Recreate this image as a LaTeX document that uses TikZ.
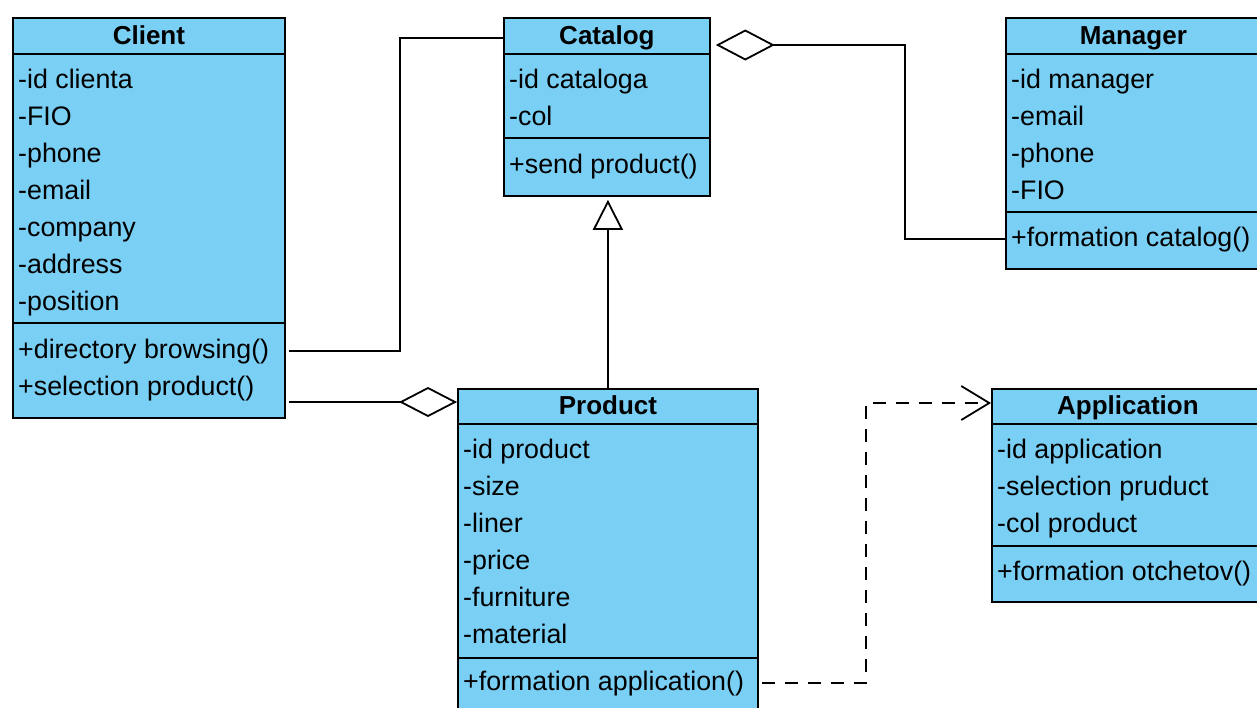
\documentclass[tikz,border=0pt]{standalone}
\usepackage{fontspec}
\setmainfont{Liberation Sans}
\usetikzlibrary{calc,arrows.meta}
\definecolor{umlfill}{RGB}{122,207,245}

\begin{document}
\begin{tikzpicture}[x=1pt,y=-1pt,
  classbox/.style={rectangle, draw=black, fill=umlfill, line width=1.8pt,
    inner sep=0pt, anchor=north west},
  member/.style={anchor=base west, inner sep=0pt,
    font=\fontsize{26.8}{32}\selectfont, text height=20pt, text depth=6pt},
  title/.style={anchor=base, inner sep=0pt,
    font=\bfseries\fontsize{26}{31}\selectfont, text height=20pt, text depth=6pt},
  divider/.style={line width=1.8pt},
  link/.style={line width=1.8pt, draw=black},
  depend/.style={link, dash pattern=on 13pt off 10pt}]

\useasboundingbox (0,0) rectangle (1257,707);
\clip (0,0) rectangle (1257,707);

% ---------- Client ----------
\node[classbox, minimum width=272, minimum height=400] (client) at (12,17) {};
\draw[divider] ($(client.north west)+(0,37)$) -- ($(client.north east)+(0,37)$);
\draw[divider] ($(client.north west)+(0,306)$) -- ($(client.north east)+(0,306)$);
\node[title] (clientT) at ($(client.north)+(0,27)$) {Client};
\node[member] (cl1) at (18,88) {-id clienta};
\node[member] (cl2) at (18,125) {-FIO};
\node[member] (cl3) at (18,162) {-phone};
\node[member] (cl4) at (18,199) {-email};
\node[member] (cl5) at (18,236) {-company};
\node[member] (cl6) at (18,273) {-address};
\node[member] (cl7) at (18,310) {-position};
\node[member] (clBrowse) at (18,358) {+directory browsing()};
\node[member] (clSel) at (18,395) {+selection product()};

% ---------- Catalog ----------
\node[classbox, minimum width=206, minimum height=178] (catalog) at (503,17) {};
\draw[divider] ($(catalog.north west)+(0,37)$) -- ($(catalog.north east)+(0,37)$);
\draw[divider] ($(catalog.north west)+(0,121)$) -- ($(catalog.north east)+(0,121)$);
\node[title] (catalogT) at ($(catalog.north)+(0,27)$) {Catalog};
\node[member] (ca1) at (509,88) {-id cataloga};
\node[member] (ca2) at (509,125) {-col};
\node[member] (caSend) at (509,173) {+send product()};

% ---------- Manager ----------
\node[classbox, minimum width=255, minimum height=251] (manager) at (1005,17) {};
\draw[divider] ($(manager.north west)+(0,37)$) -- ($(manager.north east)+(0,37)$);
\draw[divider] ($(manager.north west)+(0,195)$) -- ($(manager.north east)+(0,195)$);
\node[title] (managerT) at ($(manager.north)+(0,27)$) {Manager};
\node[member] (mg1) at (1011,88) {-id manager};
\node[member] (mg2) at (1011,125) {-email};
\node[member] (mg3) at (1011,162) {-phone};
\node[member] (mg4) at (1011,199) {-FIO};
\node[member] (mgMeth) at (1011,246) {+formation catalog()};

% ---------- Product ----------
\node[classbox, minimum width=300, minimum height=340] (product) at (457,388) {};
\draw[divider] ($(product.north west)+(0,36)$) -- ($(product.north east)+(0,36)$);
\draw[divider] ($(product.north west)+(0,270)$) -- ($(product.north east)+(0,270)$);
\node[title] (productT) at ($(product.north)+(0,26)$) {Product};
\node[member] (pr1) at (463,458) {-id product};
\node[member] (pr2) at (463,495) {-size};
\node[member] (pr3) at (463,532) {-liner};
\node[member] (pr4) at (463,569) {-price};
\node[member] (pr5) at (463,606) {-furniture};
\node[member] (pr6) at (463,643) {-material};
\node[member] (prMeth) at (463,690) {+formation application()};

% ---------- Application ----------
\node[classbox, minimum width=272, minimum height=213] (application) at (991,388) {};
\draw[divider] ($(application.north west)+(0,36)$) -- ($(application.north east)+(0,36)$);
\draw[divider] ($(application.north west)+(0,158)$) -- ($(application.north east)+(0,158)$);
\node[title] (applicationT) at ($(application.north)+(0,26)$) {Application};
\node[member] (ap1) at (997,458) {-id application};
\node[member] (ap2) at (997,495) {-selection pruduct};
\node[member] (ap3) at (997,532) {-col product};
\node[member] (apMeth) at (997,580) {+formation otchetov()};

% ---------- Relations ----------
% Client browses the catalog
\draw[link] ($(clBrowse.west -| client.east)+(3,0)$) -- ++(111,0)
  |- ($(catalog.north west)+(0,21)$);
% Client aggregates products
\draw[link, -{Diamond[open, length=58pt, width=30pt]}]
  ($(clSel.west -| client.east)+(3,14)$) -- ($(product.north west)+(0,14)$);
% Manager and catalog aggregation
\draw[link, -{Diamond[open, length=59pt, width=31pt]}]
  (mgMeth.west -| manager.west) -- ++(-100,0) |- ($(catalog.north east)+(5,28)$);
% Product generalises to catalog
\draw[link, -{Triangle[open, length=30pt, width=30pt]}]
  (product.north) -- ($(product.north |- catalog.south)+(0,3)$);
% Product depends on application
\draw[depend, -{Straight Barb[length=28pt, width=34pt]}]
  ($(prMeth.west -| product.east)+(3,0)$) -- ++(104,0)
  |- ($(application.north west)+(0,15)$);
\end{tikzpicture}
\end{document}
